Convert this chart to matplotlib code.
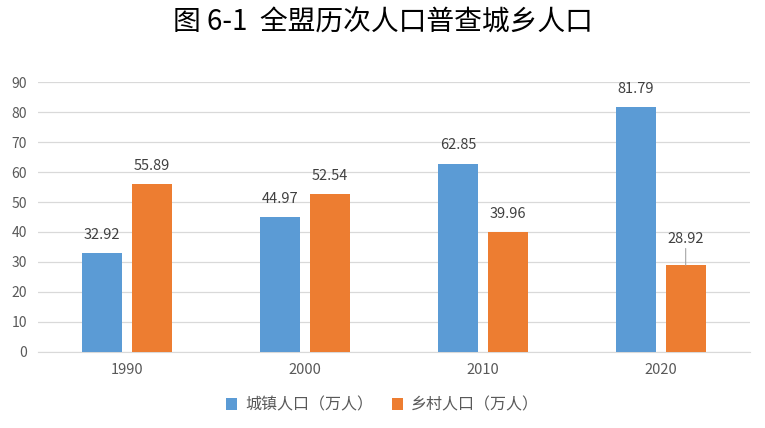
import numpy as np
import matplotlib
matplotlib.use('Agg')
from matplotlib import pyplot as plt

plt.rcParams['font.family'] = ['Noto Sans CJK SC', 'DejaVu Sans']

years = ['1990', '2000', '2010', '2020']
urban = [32.92, 44.97, 62.85, 81.79]
rural = [55.89, 52.54, 39.96, 28.92]
names = ['城镇人口（万人）', '乡村人口（万人）']

fig = plt.figure(figsize=(7.65, 4.28), dpi=100)
ax = fig.add_axes([0.05, 0.178, 0.93, 0.63])

x = np.arange(len(years))
w = 0.225
b1 = ax.bar(x - 0.14, urban, w, color='#5B9BD5', label=names[0], zorder=3)
b2 = ax.bar(x + 0.14, rural, w, color='#ED7D31', label=names[1], zorder=3)

for xi, v in zip(x - 0.14, urban):
    ax.annotate(f'{v:.2f}', (xi, v), xytext=(0, 8), textcoords='offset points',
                ha='center', va='bottom', fontsize=10.5, color='#404040')
for i, (xi, v) in enumerate(zip(x + 0.14, rural)):
    if i == 3:
        # label pulled up with a leader line
        ax.annotate(f'{v:.2f}', (xi, v), xytext=(0, 14), textcoords='offset points',
                    ha='center', va='bottom', fontsize=10.5, color='#404040',
                    arrowprops=dict(arrowstyle='-', color='#A6A6A6', lw=0.8,
                                    shrinkA=0, shrinkB=0))
    else:
        ax.annotate(f'{v:.2f}', (xi, v), xytext=(0, 8), textcoords='offset points',
                    ha='center', va='bottom', fontsize=10.5, color='#404040')

ax.set_xlim(-0.5, 3.5)
ax.set_ylim(0, 90)
ax.set_yticks(range(0, 91, 10))
ax.set_xticks(x)
ax.set_xticklabels(years, fontsize=10.5)
ax.grid(axis='y', color='#D9D9D9', lw=0.9, zorder=0)
for s in ['top', 'right', 'left']:
    ax.spines[s].set_visible(False)
ax.spines['bottom'].set_color('#D9D9D9')
ax.tick_params(axis='both', length=0, colors='#595959', pad=8)
ax.tick_params(axis='y', labelsize=10)

fig.suptitle('图 6-1  全盟历次人口普查城乡人口', y=0.982, fontsize=20, fontweight='medium')

fig.legend(loc='lower center', bbox_to_anchor=(0.5, 0.0), ncol=2, frameon=False,
           fontsize=11.5, labelcolor='#595959', handlelength=0.7, handleheight=0.7,
           columnspacing=1.2, handletextpad=0.5)

plt.savefig('out.png')
